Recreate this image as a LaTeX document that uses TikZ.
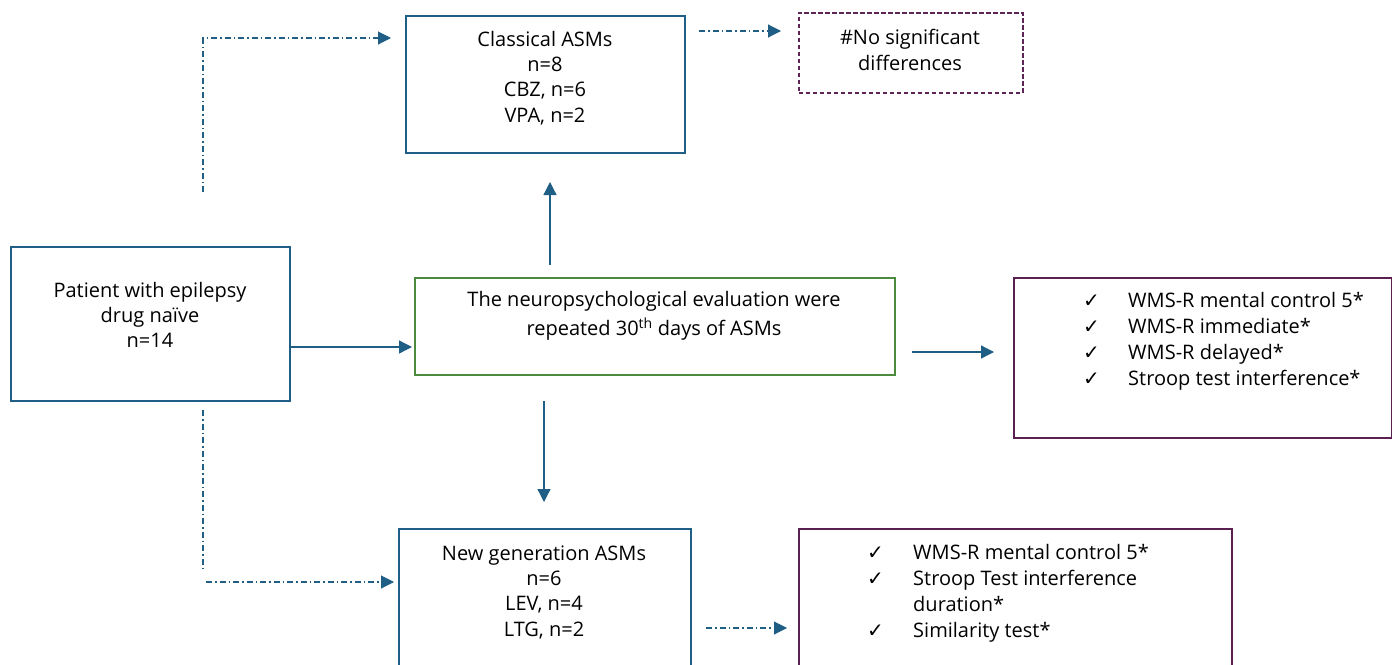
\documentclass[tikz,border=0pt]{standalone}
\usepackage{fontspec}
\setmainfont{Open Sans}
\newfontfamily\symfont{DejaVu Sans}
\usetikzlibrary{arrows.meta}
\definecolor{cblue}{HTML}{1F5F85}
\definecolor{cgreen}{HTML}{4A8B3E}
\definecolor{cpurple}{HTML}{5B1F50}
\definecolor{cpurpled}{HTML}{5F2457}
\newcommand{\ck}{{\symfont\fontsize{20}{20}\selectfont ✓}}
\begin{document}
\begin{tikzpicture}[x=1pt,y=-1pt,
  box/.style={draw=cblue,line width=1.6pt,inner sep=0pt,anchor=north west},
  gbox/.style={draw=cgreen,line width=1.6pt,inner sep=0pt,anchor=north west},
  pbox/.style={draw=cpurple,line width=1.6pt,inner sep=0pt,anchor=north west},
  dbox/.style={draw=cpurpled,line width=1.7pt,dash pattern=on 4.5pt off 2.5pt,inner sep=0pt,anchor=north west},
  txt/.style={align=center,inner sep=0pt,font=\fontsize{20}{25.3}\selectfont},
  lst/.style={inner sep=0pt,anchor=north west,font=\fontsize{20}{26}\selectfont},
  sarr/.style={draw=cblue,line width=1.3pt,-{Triangle[length=13pt,width=13pt]}},
  darr/.style={draw=cblue,line width=1.1pt,dash pattern=on 6pt off 3pt on 1.5pt off 3pt},
  dtip/.style={darr,-{Triangle[length=13pt,width=13pt]}}]
\useasboundingbox (0,0) rectangle (1392,664);
% boxes
\node[box,minimum width=279pt,minimum height=154pt] (pat) at (10,246) {};
\node[box,minimum width=279pt,minimum height=137pt] (cla) at (405,15) {};
\node[dbox,minimum width=224pt,minimum height=80pt] (nos) at (798,12) {};
\node[gbox,minimum width=480pt,minimum height=97pt] (eva) at (414,277) {};
\node[pbox,minimum width=378pt,minimum height=160pt] (res1) at (1013,277) {};
\node[box,minimum width=292pt,minimum height=150pt] (new) at (398,528) {};
\node[pbox,minimum width=433pt,minimum height=150pt] (res2) at (798,528) {};
% texts
\node[txt] (tpat) at (150,315) {Patient with epilepsy\\drug naïve\\n=14};
\node[txt] (tcla) at (545,78) {Classical ASMs\\n=8\\CBZ, n=6\\VPA, n=2};
\node[txt] (tnos) at (910,50) {\#No significant\\differences};
\node[txt] (teva) at (654,316) {The neuropsychological evaluation were\\[4pt]repeated 30\textsuperscript{th} days of ASMs};
\node[txt] (tnew) at (544,592) {New generation ASMs\\n=6\\LEV, n=4\\LTG, n=2};
\node[lst] (tres1) at (1083,289) {\begin{tabular}{@{}p{45pt}@{}l@{}}
\ck & WMS-R mental control 5*\\
\ck & WMS-R immediate*\\
\ck & WMS-R delayed*\\
\ck & Stroop test interference*
\end{tabular}};
\node[lst] (tres2) at (867,541) {\begin{tabular}{@{}p{46pt}@{}l@{}}
\ck & WMS-R mental control 5*\\
\ck & Stroop Test interference\\
 & duration*\\
\ck & Similarity test*
\end{tabular}};
% coordinates
\coordinate (a1) at (289,347);
\coordinate (a2) at (412,347);
\coordinate (u1) at (550,265);
\coordinate (u2) at (550,182);
\coordinate (d1) at (544,401);
\coordinate (d2) at (544,502);
\coordinate (r1) at (912,352);
\coordinate (r2) at (994,352);
\coordinate (c1) at (203,192);
\coordinate (c2) at (203,38);
\coordinate (c3) at (391,38);
\coordinate (b1) at (203,410);
\coordinate (b2) at (203,568);
\coordinate (b3) at (206,582);
\coordinate (b4) at (394,582);
\coordinate (n1) at (699,31);
\coordinate (n2) at (781,31);
\coordinate (m1) at (706,628);
\coordinate (m2) at (787,628);
% connectors
\draw[sarr] (a1) -- (a2);
\draw[sarr] (u1) -- (u2);
\draw[sarr] (d1) -- (d2);
\draw[sarr] (r1) -- (r2);
\draw[dtip] (c1) -- (c2) -- (c3);
\draw[darr] (b1) -- (b2);
\draw[dtip] (b3) -- (b4);
\draw[dtip] (n1) -- (n2);
\draw[dtip] (m1) -- (m2);
\end{tikzpicture}
\end{document}
